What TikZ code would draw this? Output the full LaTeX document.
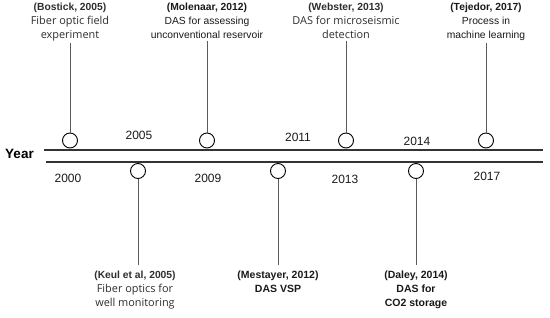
\documentclass[tikz,border=0pt]{standalone}
\usepackage{fontspec}
\setmainfont{Liberation Sans}
\newfontfamily\osans{Open Sans}
\usepackage{tikz}
\definecolor{axisgray}{HTML}{333333}
\definecolor{stemgray}{HTML}{5A5A5A}
\newcommand{\evhead}[1]{{\rmfamily\bfseries\fontsize{10.3}{14}\selectfont #1}}
\tikzset{
  dot/.style={circle,draw=black,line width=0.9pt,fill=white,minimum size=15pt,inner sep=0pt},
  yr/.style={font=\fontsize{12}{14}\selectfont,text=black!90},
  ev/.style={align=center,inner sep=2pt,text=black!90,font=\fontsize{10.3}{14}\selectfont},
  evo/.style={ev,font=\osans\fontsize{10.9}{14}\selectfont,text=black!82},
  stem/.style={draw=stemgray,line width=0.8pt}
}
\begin{document}
\begin{tikzpicture}[x=1pt,y=-1pt]
\useasboundingbox (0,0) rectangle (550,317);

%Axis
\coordinate (a1) at (44,150); \coordinate (a2) at (543,150);
\coordinate (b1) at (46,162); \coordinate (b2) at (543,162);
\draw [axisgray,line width=1.4pt] (a1)--(a2); \draw [axisgray,line width=1.4pt] (b1)--(b2);
\node [font=\bfseries\fontsize{13.5}{15}\selectfont] (year) at (19.5,154) {Year};

%Years
\node [yr] (y2005) at (139,135) {2005}; \node [yr] (y2011) at (298,137) {2011}; \node [yr] (y2014) at (417,141) {2014};
\node [yr] (y2000) at (68,178) {2000}; \node [yr] (y2009) at (208,178) {2009}; \node [yr] (y2013) at (345,179) {2013}; \node [yr] (y2017) at (487,176) {2017};

%Top events
\node [dot] (c1) at (70,140.5) {}; \node [dot] (c2) at (207,140.5) {}; \node [dot] (c3) at (346,140.5) {}; \node [dot] (c4) at (486,140.5) {};

\node [evo,anchor=north] (bostick) at (70,1) {\evhead{(Bostick, 2005)}\\Fiber optic field\\experiment};
\node [ev,anchor=north] (molenaar) at (207,1) {\evhead{(Molenaar, 2012)}\\DAS for assessing\\unconventional reservoir};
\node [evo,anchor=north] (webster) at (346,1) {\evhead{(Webster, 2013)}\\DAS for microseismic\\detection};
\node [ev,anchor=north] (tejedor) at (486,1) {\evhead{(Tejedor, 2017)}\\Process in\\machine learning};

\draw [stem] (bostick)--(c1); \draw [stem] (molenaar)--(c2); \draw [stem] (webster)--(c3); \draw [stem] (tejedor)--(c4);

%Bottom events
\node [dot] (d1) at (138,171) {}; \node [dot] (d2) at (278,171) {}; \node [dot] (d3) at (416,171) {};

\node [evo,anchor=north,outer sep=4pt] (keul) at (135,265) {\evhead{(Keul et al, 2005)}\\Fiber optics for\\well monitoring};
\node [ev,anchor=north,outer sep=4pt,font=\bfseries\fontsize{10.5}{14}\selectfont] (mestayer) at (278,265) {(Mestayer, 2012)\\DAS VSP};
\node [ev,anchor=north,outer sep=4pt,font=\bfseries\fontsize{10.5}{14}\selectfont] (daley) at (416,265) {(Daley, 2014)\\DAS for\\CO2 storage};

\draw [stem] (d1)--(d1|-keul.north); \draw [stem] (d2)--(mestayer); \draw [stem] (d3)--(daley);

\end{tikzpicture}
\end{document}
